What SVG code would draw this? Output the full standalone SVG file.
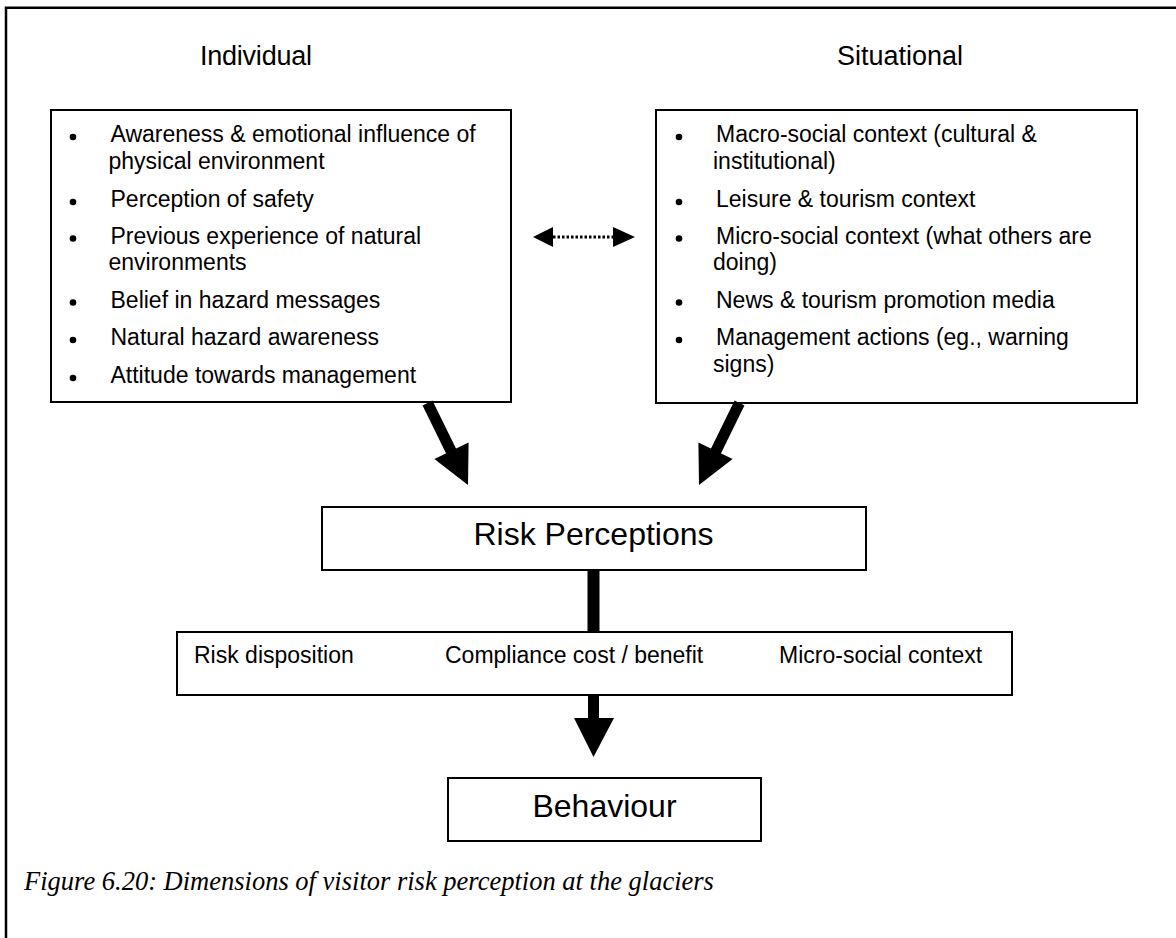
<svg xmlns="http://www.w3.org/2000/svg" width="1176" height="938" viewBox="0 0 1176 938">
  <style>
    .box { fill: #ffffff; stroke: #000000; stroke-width: 2; }
    .head { font-family: "Liberation Sans", Arial, sans-serif; font-size: 27px; fill: #000; }
    .item { font-family: "Liberation Sans", Arial, sans-serif; font-size: 23px; fill: #000; }
    .mid { font-family: "Liberation Sans", Arial, sans-serif; font-size: 23px; fill: #000; }
    .big { font-family: "Liberation Sans", Arial, sans-serif; font-size: 32px; fill: #000; text-anchor: middle; }
    .cap { font-family: "Liberation Serif", "Times New Roman", serif; font-style: italic; font-size: 26.5px; fill: #000; }
    .dot { fill: #000; }
    .shaft { stroke: #000; stroke-width: 11; fill: none; }
  </style>

  <rect x="0" y="0" width="1176" height="938" fill="#ffffff"/>

  <!-- page frame (left and top edges) -->
  <path d="M6,938 V7.7 H1176" fill="none" stroke="#000" stroke-width="2.5"/>

  <!-- column headings -->
  <text class="head" x="256" y="65" text-anchor="middle" textLength="112">Individual</text>
  <text class="head" x="900" y="65" text-anchor="middle">Situational</text>

  <!-- individual factors -->
  <g id="individual">
    <rect class="box" x="51" y="110" width="460" height="292"/>
    <circle class="dot" cx="73" cy="137" r="3.3"/>
    <text class="item" x="110.5" y="142">Awareness &amp; emotional influence of</text>
    <text class="item" x="108.5" y="168.5">physical environment</text>
    <circle class="dot" cx="73" cy="202" r="3.3"/>
    <text class="item" x="110.5" y="207">Perception of safety</text>
    <circle class="dot" cx="73" cy="238.5" r="3.3"/>
    <text class="item" x="110.5" y="243.5">Previous experience of natural</text>
    <text class="item" x="108.5" y="270">environments</text>
    <circle class="dot" cx="73" cy="302.5" r="3.3"/>
    <text class="item" x="110.5" y="307.5">Belief in hazard messages</text>
    <circle class="dot" cx="73" cy="340" r="3.3"/>
    <text class="item" x="110.5" y="345">Natural hazard awareness</text>
    <circle class="dot" cx="73" cy="378" r="3.3"/>
    <text class="item" x="110.5" y="383">Attitude towards management</text>
  </g>

  <!-- situational factors -->
  <g id="situational">
    <rect class="box" x="656" y="110" width="481" height="293"/>
    <circle class="dot" cx="679" cy="137" r="3.3"/>
    <text class="item" x="716" y="142">Macro-social context (cultural &amp;</text>
    <text class="item" x="713" y="168.5">institutional)</text>
    <circle class="dot" cx="679" cy="202" r="3.3"/>
    <text class="item" x="716" y="207">Leisure &amp; tourism context</text>
    <circle class="dot" cx="679" cy="238.5" r="3.3"/>
    <text class="item" x="716" y="243.5">Micro-social context (what others are</text>
    <text class="item" x="713" y="270">doing)</text>
    <circle class="dot" cx="679" cy="302.5" r="3.3"/>
    <text class="item" x="716" y="307.5">News &amp; tourism promotion media</text>
    <circle class="dot" cx="679" cy="340" r="3.3"/>
    <text class="item" x="716" y="345">Management actions (eg., warning</text>
    <text class="item" x="713" y="372">signs)</text>
  </g>

  <!-- central risk perception node -->
  <g id="risk-perceptions">
    <rect class="box" x="322" y="507" width="544" height="63"/>
    <text class="big" x="593.5" y="545">Risk Perceptions</text>
  </g>

  <!-- moderating factors -->
  <g id="moderators">
    <rect class="box" x="177" y="632" width="835" height="63"/>
    <text class="mid" x="194" y="663">Risk disposition</text>
    <text class="mid" x="445" y="663">Compliance cost / benefit</text>
    <text class="mid" x="779" y="663">Micro-social context</text>
  </g>

  <!-- outcome -->
  <g id="behaviour">
    <rect class="box" x="448" y="778" width="313" height="63"/>
    <text class="big" x="604.5" y="817">Behaviour</text>
  </g>

  <!-- connectors -->
  <g id="connectors">
    <!-- two-way dotted link between the factor boxes -->
    <line x1="553" y1="237" x2="615" y2="237" stroke="#000" stroke-width="3" stroke-dasharray="2.5 2"/>
    <path d="M533,237 L553,227 L553,247 Z" fill="#000"/>
    <path d="M635,237 L613,227 L613,247 Z" fill="#000"/>

    <!-- individual to risk perceptions -->
    <line class="shaft" x1="427.5" y1="403" x2="453" y2="455"/>
    <path d="M468,485 L468.6,442.6 L434.4,459 Z" fill="#000"/>

    <!-- situational to risk perceptions -->
    <line class="shaft" x1="739.5" y1="403" x2="714" y2="455"/>
    <path d="M699,485 L698.4,442.6 L732.6,459 Z" fill="#000"/>

    <!-- risk perceptions to moderators -->
    <rect x="587.5" y="570" width="12" height="62" fill="#000"/>

    <!-- moderators to behaviour -->
    <rect x="588" y="695" width="11" height="24" fill="#000"/>
    <path d="M574,718 L614,718 L593.5,757 Z" fill="#000"/>
  </g>

  <!-- caption -->
  <text class="cap" x="24" y="890">Figure 6.20: Dimensions of visitor risk perception at the glaciers</text>
</svg>
